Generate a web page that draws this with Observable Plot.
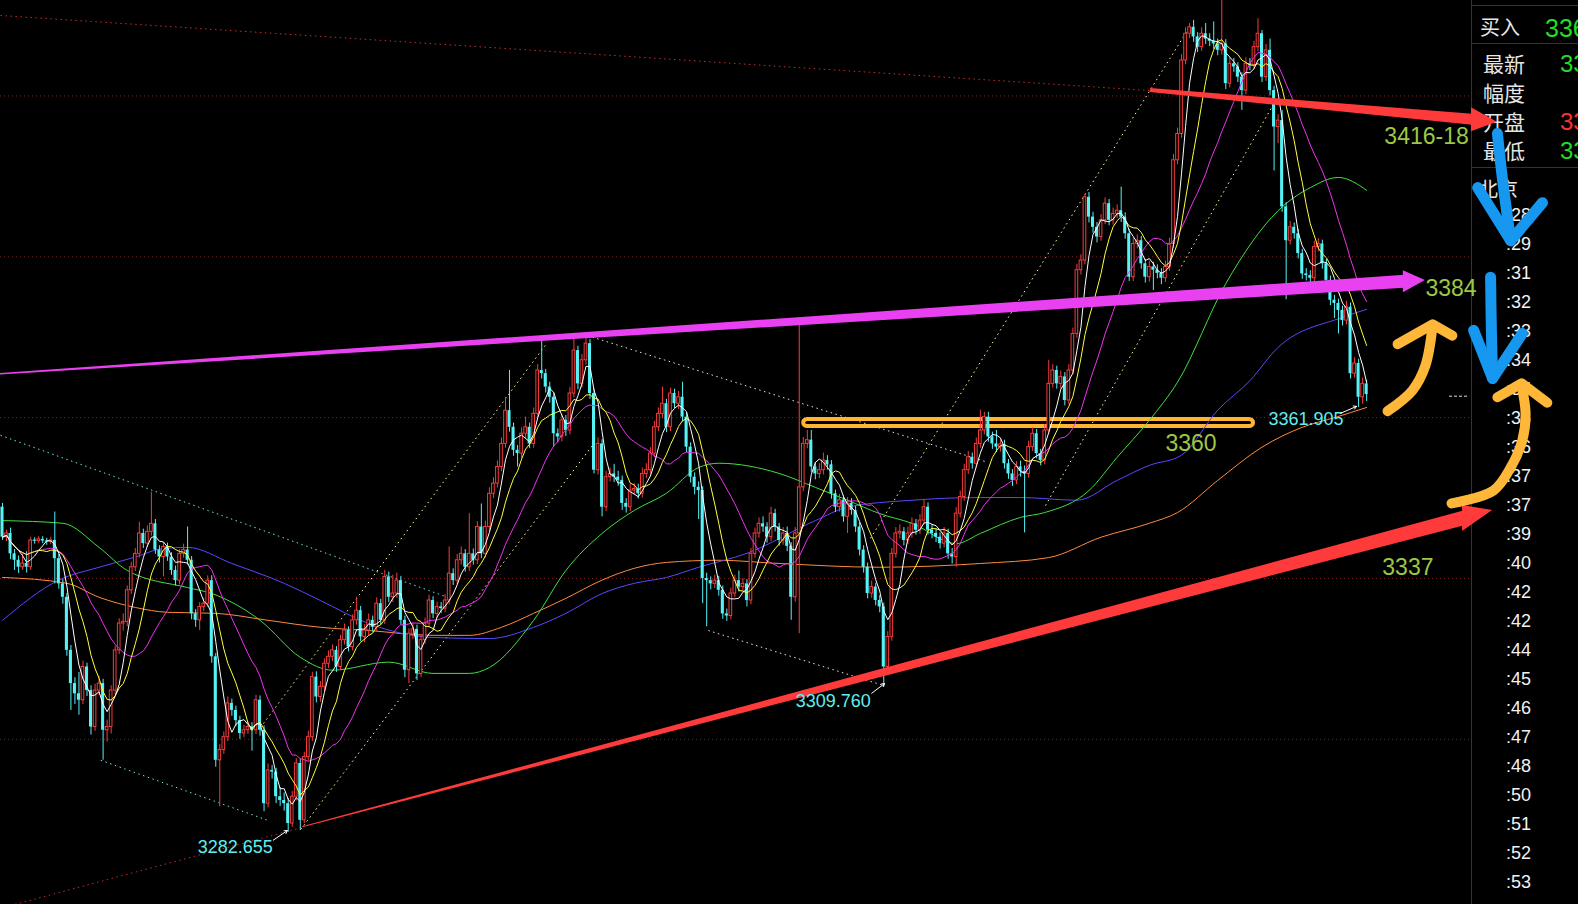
<!DOCTYPE html>
<html><head><meta charset="utf-8">
<script src="https://cdn.jsdelivr.net/npm/d3@7"></script>
<script src="https://cdn.jsdelivr.net/npm/@observablehq/plot@0.6"></script>
<style>
html,body{margin:0;padding:0;background:#000;overflow:hidden;}
#wrap{position:relative;width:1578px;height:904px;background:#000;overflow:hidden;}
#chart{position:absolute;left:0;top:0;}
.t{position:absolute;white-space:nowrap;line-height:1;transform:translateY(-50%);}
.ln{position:absolute;background:#7a1616;}
</style></head>
<body><div id="wrap"><div id="chart"></div></div>
<script>
// ---------------- data ----------------
const firstOpen = 3343.3;
const closes = [
3337.7,3338.4,3334.6,3333.4,3332.1,3332.8,3332.1,3337.1,3337.0,3337.3,
3337.0,3336.8,3337.1,3333.7,3329.0,3326.5,3316.6,3310.4,3308.5,3307.3,
3313.5,3309.1,3302.3,3309.1,3310.4,3301.7,3302.3,3309.1,3316.6,3321.6,
3321.9,3327.8,3332.1,3334.6,3338.4,3336.5,3338.7,3340.2,3335.3,3334.0,
3335.9,3334.0,3331.5,3329.6,3334.6,3335.3,3333.4,3323.4,3322.2,3324.7,
3325.3,3329.6,3315.4,3296.1,3298.0,3300.4,3306.7,3305.4,3303.5,3301.1,
3301.7,3302.3,3301.7,3307.3,3301.7,3288.0,3294.2,3293.9,3289.3,3288.6,
3288.0,3284.3,3289.3,3295.5,3284.9,3296.7,3300.4,3311.6,3307.9,3309.8,
3314.1,3315.4,3316.6,3313.5,3318.5,3320.3,3317.2,3322.2,3324.0,3319.1,
3320.3,3322.2,3320.9,3325.3,3322.2,3330.3,3326.5,3327.2,3329.6,3322.2,
3312.9,3319.7,3320.5,3312.2,3318.5,3321.6,3325.9,3323.4,3324.7,3324.4,
3325.9,3330.9,3329.6,3333.4,3334.6,3332.1,3334.6,3333.4,3339.6,3334.6,
3339.6,3345.8,3347.7,3350.8,3355.1,3361.3,3358.2,3353.9,3353.3,3357.0,
3358.2,3355.1,3360.7,3368.8,3368.2,3365.7,3363.8,3357.0,3356.4,3359.5,
3357.6,3364.5,3372.5,3366.3,3370.7,3373.8,3364.5,3350.2,3355.1,3343.3,
3348.9,3349.5,3348.9,3348.3,3344.0,3343.3,3346.4,3346.7,3345.8,3349.5,
3350.2,3353.3,3358.2,3360.7,3362.6,3358.2,3364.5,3362.6,3363.8,3360.1,
3354.5,3348.9,3347.0,3346.4,3330.0,3329.6,3329.0,3329.6,3327.8,3323.4,
3323.0,3327.2,3329.6,3328.4,3329.0,3325.9,3334.6,3338.4,3340.2,3339.6,
3337.7,3342.1,3339.6,3337.1,3338.4,3336.0,3326.5,3338.4,3347.0,3355.1,
3355.8,3350.8,3349.5,3350.2,3352.0,3351.2,3345.8,3343.3,3344.6,3341.5,
3344.0,3342.7,3339.6,3335.3,3332.1,3327.2,3328.4,3325.9,3324.7,3313.5,
3319.1,3334.6,3338.4,3338.7,3337.1,3338.4,3340.2,3339.0,3340.8,3343.3,
3339.0,3338.4,3337.7,3336.5,3338.4,3334.6,3334.0,3342.1,3345.2,3350.2,
3352.6,3351.4,3355.1,3357.6,3360.1,3356.4,3355.1,3354.5,3355.0,3351.4,
3349.5,3348.3,3350.8,3350.0,3349.5,3354.5,3357.0,3353.3,3352.0,3357.6,
3366.3,3368.8,3366.3,3367.6,3363.2,3368.8,3375.6,3387.5,3389.3,3401.1,
3397.4,3395.5,3393.7,3396.8,3399.9,3396.8,3398.0,3398.6,3397.4,3394.3,
3386.2,3392.4,3393.0,3388.7,3386.2,3388.1,3387.5,3386.9,3386.0,3388.1,
3392.4,3408.0,3412.9,3426.6,3431.6,3432.8,3431.0,3429.1,3431.6,3430.6,
3430.2,3429.7,3428.5,3429.7,3422.3,3426.0,3425.4,3423.5,3421.0,3426.0,
3425.7,3429.1,3431.6,3423.5,3428.5,3421.0,3414.2,3415.4,3399.3,3393.0,
3395.5,3394.3,3390.6,3386.8,3386.5,3386.0,3391.8,3392.4,3388.7,3385.6,
3381.9,3381.3,3380.0,3378.1,3380.6,3368.2,3370.1,3363.8,3366.3,3364.3];
const highs = [
3344.0,3339.0,3339.4,3335.4,3334.2,3334.6,3335.0,3337.7,3337.6,3337.8,
3337.8,3337.5,3337.7,3342.4,3334.5,3329.8,3327.2,3317.5,3311.5,3312.5,
3314.6,3314.2,3310.0,3310.3,3311.8,3311.2,3303.6,3310.0,3317.4,3322.5,
3323.4,3328.6,3333.0,3335.6,3340.5,3339.2,3339.8,3346.1,3341.0,3336.1,
3336.7,3336.6,3334.8,3332.3,3335.4,3336.4,3339.6,3334.1,3324.2,3325.5,
3326.3,3330.5,3330.5,3316.0,3299.0,3301.4,3307.9,3307.5,3306.2,3304.3,
3302.6,3303.2,3303.1,3308.2,3308.1,3302.5,3295.4,3295.1,3294.6,3291.0,
3290.0,3289.0,3290.3,3296.4,3296.3,3297.6,3301.5,3312.5,3312.6,3310.8,
3315.0,3316.5,3317.6,3317.3,3319.4,3321.5,3321.0,3323.2,3326.5,3324.8,
3321.4,3323.4,3323.0,3326.4,3326.1,3331.5,3331.2,3330.6,3331.0,3330.4,
3323.0,3320.6,3321.6,3321.3,3319.5,3322.6,3326.9,3326.6,3325.6,3325.5,
3327.0,3335.9,3331.8,3334.5,3335.9,3335.4,3342.1,3335.5,3340.6,3343.9,
3340.7,3346.9,3348.8,3351.9,3356.2,3363.8,3368.8,3359.0,3354.8,3358.1,
3360.1,3359.0,3361.8,3369.9,3374.4,3369.0,3366.6,3364.6,3357.9,3360.6,
3360.4,3365.6,3375.0,3373.3,3371.8,3375.3,3374.6,3365.3,3356.2,3355.9,
3350.0,3350.6,3351.3,3350.0,3349.1,3344.9,3347.5,3347.7,3347.6,3350.6,
3351.4,3354.4,3359.3,3361.8,3365.7,3363.4,3365.5,3365.3,3364.9,3366.6,
3360.9,3355.3,3349.7,3348.0,3347.1,3331.0,3330.3,3330.6,3330.4,3328.6,
3324.3,3328.2,3330.6,3331.4,3330.0,3329.8,3335.6,3339.4,3341.3,3341.5,
3340.4,3343.3,3342.9,3340.3,3339.5,3339.6,3336.7,3339.5,3377.5,3356.3,
3357.6,3357.6,3351.6,3351.4,3353.4,3352.9,3352.0,3346.5,3345.7,3345.4,
3345.1,3344.9,3343.5,3340.4,3336.1,3332.9,3329.5,3329.1,3326.8,3325.4,
3320.1,3335.6,3339.5,3340.0,3339.5,3339.6,3341.3,3341.0,3341.9,3344.6,
3344.1,3340.0,3339.3,3338.5,3339.5,3339.2,3335.6,3343.2,3346.3,3351.3,
3353.7,3353.4,3356.2,3361.4,3361.0,3361.0,3357.3,3357.6,3356.0,3355.8,
3352.2,3350.3,3351.8,3351.9,3351.0,3355.6,3358.1,3357.8,3354.1,3358.7,
3370.7,3369.9,3369.6,3368.7,3368.4,3369.9,3376.7,3388.6,3390.4,3401.7,
3402.0,3398.3,3396.4,3397.9,3401.0,3400.7,3399.1,3399.7,3403.0,3398.2,
3395.1,3393.5,3394.1,3393.8,3389.5,3389.2,3389.0,3388.5,3387.8,3389.2,
3393.5,3409.1,3414.0,3427.7,3432.7,3433.5,3434.1,3431.8,3432.7,3433.5,
3431.6,3433.8,3430.6,3437.8,3430.5,3427.1,3427.0,3426.2,3424.3,3427.1,
3427.0,3430.2,3434.4,3432.2,3429.6,3430.6,3421.8,3416.5,3417.3,3400.1,
3396.6,3396.3,3395.1,3391.4,3387.8,3387.4,3392.9,3393.4,3393.1,3389.5,
3386.4,3382.8,3382.1,3380.8,3381.7,3381.4,3371.2,3370.9,3367.4,3367.0];
const lows = [
3337.1,3336.9,3333.5,3331.5,3330.9,3331.5,3331.0,3331.5,3336.4,3336.5,
3336.5,3336.2,3336.3,3329.0,3328.0,3325.2,3315.5,3305.4,3306.5,3304.5,
3306.5,3308.0,3300.8,3301.5,3308.2,3296.1,3299.5,3301.0,3308.3,3315.8,
3320.2,3321.0,3327.0,3331.3,3333.8,3335.6,3335.9,3337.9,3334.5,3332.9,
3330.3,3333.2,3330.6,3328.6,3328.8,3333.8,3332.5,3322.3,3320.9,3320.3,
3323.8,3324.6,3314.2,3294.8,3287.4,3297.2,3299.6,3304.3,3302.4,3300.0,
3300.3,3300.9,3297.8,3300.9,3300.6,3286.5,3287.2,3292.6,3288.0,3287.5,
3286.6,3282.655,3283.6,3288.5,3283.0,3284.3,3295.9,3299.6,3306.8,3306.9,
3308.9,3313.2,3314.5,3312.5,3312.8,3317.6,3316.3,3316.5,3321.3,3318.2,
3318.0,3319.4,3320.0,3320.0,3321.3,3321.4,3325.5,3325.5,3326.3,3321.3,
3311.5,3310.4,3318.6,3311.0,3311.5,3317.7,3320.8,3322.5,3322.6,3323.5,
3323.6,3325.1,3328.7,3328.8,3332.5,3331.2,3331.3,3332.5,3332.6,3333.7,
3333.8,3338.8,3344.9,3346.9,3349.9,3354.3,3357.3,3352.8,3350.8,3352.4,
3356.0,3354.2,3354.3,3359.9,3367.2,3364.6,3362.7,3354.5,3355.3,3355.5,
3356.5,3356.8,3363.7,3365.2,3365.5,3369.8,3363.4,3349.5,3349.3,3341.5,
3342.5,3348.0,3347.9,3347.2,3342.7,3342.2,3342.5,3345.5,3344.8,3345.0,
3348.6,3349.4,3352.5,3357.4,3359.8,3357.2,3357.4,3361.7,3361.5,3359.2,
3353.5,3347.8,3345.6,3341.0,3325.3,3321.0,3327.9,3328.1,3326.7,3322.4,
3322.0,3322.3,3326.4,3327.5,3327.5,3324.7,3325.1,3333.8,3337.5,3338.6,
3336.6,3336.9,3338.7,3336.0,3336.2,3335.0,3322.2,3325.6,3319.7,3346.2,
3354.2,3349.8,3348.4,3348.6,3349.3,3350.2,3344.8,3342.3,3342.4,3340.5,
3338.4,3341.8,3338.6,3334.2,3331.0,3326.2,3326.3,3324.9,3323.6,3309.76,
3312.9,3318.3,3333.8,3337.4,3336.1,3336.3,3337.5,3338.1,3338.2,3340.0,
3338.1,3337.4,3336.7,3335.5,3335.7,3333.6,3332.7,3332.1,3341.3,3344.4,
3349.4,3350.4,3350.6,3354.3,3356.8,3355.4,3354.1,3353.5,3353.6,3350.4,
3348.5,3347.2,3347.5,3348.9,3338.5,3348.7,3353.7,3352.3,3351.0,3351.2,
3356.8,3365.5,3365.3,3365.4,3362.2,3362.4,3368.0,3374.8,3386.6,3388.5,
3396.3,3394.4,3392.6,3392.9,3396.0,3395.8,3395.9,3397.1,3396.4,3393.3,
3385.4,3385.4,3391.5,3387.7,3385.1,3385.3,3383.7,3385.9,3384.8,3385.2,
3387.3,3391.6,3407.2,3412.1,3425.8,3430.7,3430.0,3428.1,3428.3,3429.6,
3429.2,3428.7,3427.5,3427.6,3421.2,3421.5,3424.4,3422.5,3417.3,3420.2,
3424.7,3424.9,3428.3,3422.5,3422.7,3420.0,3406.0,3411.1,3398.3,3382.0,
3392.2,3393.3,3389.6,3385.8,3385.5,3385.0,3385.2,3390.9,3387.7,3384.6,
3380.9,3378.5,3375.6,3377.1,3377.3,3367.2,3367.4,3361.905,3362.5,3363.0];

// long moving averages: [candle index, price]
const ma60 = [[0,3340.8],[15,3340.3],[24,3335.8],[31,3331.5],[46,3328.3],[52,3327.2],[64,3322.2],[74,3315.3],[82,3312.9],[96,3314.4],[107,3312.3],[116,3312.3],[121,3313.4],[132,3322.2],[140,3331.5],[149,3338.4],[157,3342.7],[165,3345.9],[173,3350.7],[178,3351.5],[193,3349.6],[202,3347.0],[210,3344.6],[218,3342.1],[226,3340.3],[237,3336.5],[243,3338.4],[253,3341.4],[259,3342.3],[270,3346.4],[277,3352.6],[285,3359.5],[292,3366.6],[304,3385.0],[317,3398.6],[325,3402.9],[332,3404.8],[339,3402.4]];
const ma120 = [[0,3322.2],[14,3329.7],[24,3332.1],[33,3334.0],[40,3335.6],[46,3335.8],[57,3332.8],[70,3329.1],[79,3325.9],[91,3321.6],[107,3319.0],[121,3318.8],[132,3320.9],[140,3323.5],[149,3327.2],[157,3329.1],[165,3330.2],[173,3332.1],[185,3334.7],[202,3340.8],[210,3343.3],[226,3344.6],[243,3345.1],[253,3345.1],[267,3344.6],[277,3348.3],[285,3351.1],[293,3353.0],[302,3361.4],[310,3366.9],[317,3373.1],[333,3378.7],[339,3380.2]];
const ma240 = [[0,3330.2],[16,3329.1],[24,3326.5],[33,3324.6],[41,3323.7],[53,3323.5],[66,3322.2],[79,3320.9],[91,3320.3],[107,3319.4],[116,3319.4],[124,3320.9],[132,3323.5],[140,3326.3],[149,3329.7],[157,3331.9],[165,3333.0],[178,3333.4],[193,3332.8],[218,3332.1],[243,3332.8],[260,3333.9],[273,3337.7],[285,3340.3],[292,3342.3],[302,3348.3],[313,3354.5],[323,3358.2],[331,3360.0],[339,3361.9]];

const gridLevels = [3300, 3330, 3360, 3390, 3420];
const lastPrice = 3364.0;

// drawn channel lines (endpoints: candle index, price)
const channels = [
  {kind:"cyan",   x1:-0.5,  y1:3356.7, x2:110.6, y2:3326.5},
  {kind:"cyan",   x1:24.4,  y1:3296.1, x2:65.9,  y2:3284.9},
  {kind:"white",  x1:145.4, y1:3375.3, x2:244.3, y2:3351.8},
  {kind:"white",  x1:175.4, y1:3320.3, x2:218.7, y2:3310.1},
  {kind:"yellow", x1:64.1,  y1:3302.2, x2:134.9, y2:3373.5},
  {kind:"yellow", x1:74.1,  y1:3283.2, x2:146.6, y2:3354.8},
  {kind:"yellow", x1:215.7, y1:3337.5, x2:295.2, y2:3433.1},
  {kind:"yellow", x1:259.2, y1:3343.6, x2:316.4, y2:3419.2},
  {kind:"red",    x1:-0.5,  y1:3435.0, x2:285.3, y2:3421.0},
  {kind:"red",    x1:-0.5,  y1:3268.5, x2:74.6,  y2:3283.6}
];

// thick hand-drawn arrows (start, tip)
const arrowRedTop = {x1:285.3, y1:3421.0, x2:371.5, y2:3415.1};
const arrowMagenta = {x1:-0.5, y1:3368.1, x2:353.6, y2:3385.6};
const arrowRedLow = {x1:74.6, y1:3283.6, x2:370.3, y2:3342.7};

const zone3360 = {x1:199.1, x2:310.9, level:3359.0};

const blueShafts = [
  {id:"a", pts:[[371.5,3413.0],[372.8,3404.2],[374.8,3393.0]]},
  {id:"b", pts:[[369.8,3386.2],[370.0,3376.3],[370.3,3367.3]]}
];
const blueHeads = [
  {id:"a", pts:[[366.6,3402.9],[374.8,3393.0],[382.7,3400.1]]},
  {id:"b", pts:[[365.6,3376.3],[370.3,3367.3],[377.7,3375.7]]}
];
const orangeShafts = [
  {id:"a", pts:[[344.2,3361.2],[350.4,3365.1],[353.6,3369.7],[355.4,3377.2]]},
  {id:"b", pts:[[360.1,3344.0],[370.5,3346.4],[374.8,3350.7],[377.7,3355.8],[378.5,3360.8],[377.5,3366.0]]}
];
const orangeHeads = [
  {id:"a", pts:[[346.7,3373.7],[355.4,3377.4],[360.3,3375.3]]},
  {id:"b", pts:[[371.5,3363.8],[377.5,3366.4],[383.9,3362.8]]}
];

const levelLabels = [
  {text:"3416-18", x:343.4, y:3412.4},
  {text:"3384", x:353.6, y:3384.1},
  {text:"3360", x:289.0, y:3355.2},
  {text:"3337", x:342.9, y:3332.1}
];
const extremeLabels = [
  {text:"3282.655", x:48.5, y:3279.9},
  {text:"3309.760", x:197.1, y:3307.1},
  {text:"3361.905", x:314.6, y:3359.7}
];
const pointers = [
  {x1:67.3, y1:3281.2, x2:70.8, y2:3283.0},
  {x1:216.0, y1:3308.6, x2:219.2, y2:3310.4},
  {x1:332.5, y1:3360.8, x2:336.5, y2:3362.1}
];

// right quote panel texts
const bidLabel = "买入", bidValue = "336";
const quoteKeys = ["最新", "幅度", "开盘", "最低"];
const quoteVals = ["33", "", "33", "33"];
const quoteTone = ["down", "", "up", "down"];
const timeHeader = "北京";
const timeLabels = [":28",":29",":31",":32",":33",":34",":35",":36",":36",":37",":37",":39",":40",":42",":42",":44",":45",":46",":47",":48",":50",":51",":52",":53"];

// ---------------- chart ----------------
const W = 1578, H = 904;
const xDomain = [-0.497, 391.65];
const yDomain = [3269.2, 3437.8];
const pxPerPrice = H / (yDomain[1] - yDomain[0]);
const pxPerIdx = W / (xDomain[1] - xDomain[0]);

const RED = "#f43c3c", CYAN = "#55f2f6";
const candles = closes.map((c, i) => {
  const o = i === 0 ? firstOpen : closes[i - 1];
  let top = Math.max(o, c), bot = Math.min(o, c);
  const minH = 1.2 / pxPerPrice;
  if (top - bot < minH) { const m = (top + bot) / 2; top = m + minH / 2; bot = m - minH / 2; }
  return {i, o, c, up: c > o, top, bot, h: Math.max(highs[i], top), l: Math.min(lows[i], bot)};
});
const upC = candles.filter(d => d.up), dnC = candles.filter(d => !d.up);

function ma(n) {
  return closes.map((_, i) => {
    const s = closes.slice(Math.max(0, i - n + 1), i + 1);
    return {i, v: d3.mean(s)};
  });
}
const ma5 = ma(5), ma10 = ma(10), ma20 = ma(20);

function band(a, w1, w2, headLenPx, headHalfPx) {
  const dx = a.x2 - a.x1, dy = a.y2 - a.y1;
  const hx = a.x2 - headLenPx / pxPerIdx;
  const hy = a.y1 + dy * (hx - a.x1) / dx;
  const shaft = [
    {x: a.x1, lo: a.y1 - w1 / 2 / pxPerPrice, hi: a.y1 + w1 / 2 / pxPerPrice},
    {x: hx + 0.3, lo: hy - w2 / 2 / pxPerPrice, hi: hy + w2 / 2 / pxPerPrice}
  ];
  const head = [
    {x: hx, lo: hy - headHalfPx / pxPerPrice, hi: hy + headHalfPx / pxPerPrice},
    {x: a.x2, lo: a.y2, hi: a.y2}
  ];
  return {shaft, head};
}
const redTop = band(arrowRedTop, 4, 11, 26, 12);
const mag = band(arrowMagenta, 1.5, 13, 22, 11);
const redLow = band(arrowRedLow, 1, 15, 30, 13);

const flat = arr => arr.flatMap(s => s.pts.map(p => ({id: s.id, x: p[0], y: p[1]})));
const chanColor = {cyan: "#6fe3e6", white: "#e6e6e6", yellow: "#ffff9a", red: "#c0302e"};

const FONT = "Liberation Sans, Arial, sans-serif";
const chart = Plot.plot({
  width: W, height: H,
  marginTop: 0, marginRight: 0, marginBottom: 0, marginLeft: 0,
  x: {domain: xDomain, axis: null},
  y: {domain: yDomain, axis: null},
  style: {background: "transparent", color: "white", fontFamily: FONT, overflow: "visible"},
  marks: [
    Plot.ruleY(gridLevels, {y: d => d, x1: () => -0.5, x2: () => 365, stroke: "#7c2222", strokeDasharray: "1,3", strokeWidth: 1}),
    Plot.link(channels, {x1: "x1", y1: "y1", x2: "x2", y2: "y2", stroke: d => chanColor[d.kind], strokeDasharray: "1.5,3.5", strokeWidth: 1}),
    Plot.rect([zone3360], {x1: "x1", x2: "x2", y1: d => d.level - 3.5 / pxPerPrice, y2: d => d.level + 3.5 / pxPerPrice, fill: "none", stroke: "#ffb531", strokeWidth: 4, rx: 4}),
    Plot.line(ma240, {x: d => d[0], y: d => d[1], stroke: "#ff8a3d", strokeWidth: 1, curve: "monotone-x"}),
    Plot.line(ma120, {x: d => d[0], y: d => d[1], stroke: "#5a48ff", strokeWidth: 1, curve: "monotone-x"}),
    Plot.line(ma60, {x: d => d[0], y: d => d[1], stroke: "#3fe03f", strokeWidth: 1, curve: "monotone-x"}),
    Plot.ruleX(upC, {x: "i", y1: "l", y2: "h", stroke: RED, strokeWidth: 1}),
    Plot.ruleX(dnC, {x: "i", y1: "l", y2: "h", stroke: CYAN, strokeWidth: 1}),
    Plot.rect(dnC, {x1: d => d.i - 0.38, x2: d => d.i + 0.38, y1: "bot", y2: "top", fill: CYAN}),
    Plot.rect(upC, {x1: d => d.i - 0.33, x2: d => d.i + 0.33, y1: "bot", y2: "top", fill: "black", stroke: RED, strokeWidth: 1}),
    Plot.line(ma20, {x: "i", y: "v", stroke: "#f032f0", strokeWidth: 1}),
    Plot.line(ma10, {x: "i", y: "v", stroke: "#ffff3c", strokeWidth: 1}),
    Plot.line(ma5, {x: "i", y: "v", stroke: "#ffffff", strokeWidth: 1}),
    Plot.ruleY([lastPrice], {y: d => d, x1: () => 359.6, x2: () => 364.6, stroke: "#dddddd", strokeDasharray: "3,2", strokeWidth: 1}),
    Plot.areaY(redTop.shaft, {x: "x", y1: "lo", y2: "hi", fill: "#ff3a3a"}),
    Plot.areaY(redTop.head, {x: "x", y1: "lo", y2: "hi", fill: "#ff3a3a"}),
    Plot.areaY(mag.shaft, {x: "x", y1: "lo", y2: "hi", fill: "#e940f2"}),
    Plot.areaY(mag.head, {x: "x", y1: "lo", y2: "hi", fill: "#e940f2"}),
    Plot.areaY(redLow.shaft, {x: "x", y1: "lo", y2: "hi", fill: "#ff3a3a"}),
    Plot.areaY(redLow.head, {x: "x", y1: "lo", y2: "hi", fill: "#ff3a3a"}),
    Plot.text(levelLabels, {x: "x", y: "y", text: "text", fill: "#9cc845", fontSize: 23, textAnchor: "start", fontFamily: FONT}),
    Plot.text(extremeLabels, {x: "x", y: "y", text: "text", fill: "#5eeef0", fontSize: 18, textAnchor: "start", fontFamily: FONT}),
    Plot.arrow(pointers, {x1: "x1", y1: "y1", x2: "x2", y2: "y2", stroke: "white", strokeWidth: 1, headLength: 5}),
    Plot.line(flat(orangeShafts), {x: "x", y: "y", z: "id", stroke: "#ffb73a", strokeWidth: 10, strokeLinecap: "round", strokeLinejoin: "round", curve: "catmull-rom"}),
    Plot.line(flat(orangeHeads), {x: "x", y: "y", z: "id", stroke: "#ffb73a", strokeWidth: 10, strokeLinecap: "round", strokeLinejoin: "round"}),
    Plot.line(flat(blueShafts), {x: "x", y: "y", z: "id", stroke: "#1697f0", strokeWidth: 11, strokeLinecap: "round", strokeLinejoin: "round", curve: "catmull-rom"}),
    Plot.line(flat(blueHeads), {x: "x", y: "y", z: "id", stroke: "#1697f0", strokeWidth: 11, strokeLinecap: "round", strokeLinejoin: "round"})
  ]
});

// ---------------- right panel (under the chart svg) ----------------
const wrap = document.getElementById("wrap");
function line(l, t, w, h) { const d = document.createElement("div"); d.className = "ln"; Object.assign(d.style, {left: l + "px", top: t + "px", width: w + "px", height: h + "px"}); wrap.appendChild(d); }
function txt(s, l, cy, size, color, font) { const d = document.createElement("div"); d.className = "t"; d.textContent = s; Object.assign(d.style, {left: l + "px", top: cy + "px", fontSize: size + "px", color, fontFamily: font}); wrap.appendChild(d); }
const CJK = '"Noto Sans CJK SC", "Noto Sans", sans-serif';
const toneColor = {up: "#ff3030", down: "#22dd22", "": "#ffffff"};
line(1471, 0, 1, 904);
line(1471, 5, 107, 1);
line(1471, 43, 107, 1);
line(1471, 167, 107, 1);
txt(bidLabel, 1480, 27, 20, "#e6e6e6", CJK);
txt(bidValue, 1545, 28, 25, "#22dd22", FONT);
quoteKeys.forEach((k, j) => {
  const cy = 63 + 29 * j;
  txt(k, 1483, cy, 21, "#e6e6e6", CJK);
  if (quoteVals[j]) txt(quoteVals[j], 1560, cy + 1, 24, toneColor[quoteTone[j]], FONT);
});
txt(timeHeader, 1478, 189, 20, "#e6e6e6", CJK);
timeLabels.forEach((s, j) => txt(s, 1506, 215 + 29 * j, 18, "#f2f2f2", FONT));

const holder = document.getElementById("chart");
holder.appendChild(chart);
wrap.appendChild(holder); // keep svg above panel text
</script>
</body></html>
